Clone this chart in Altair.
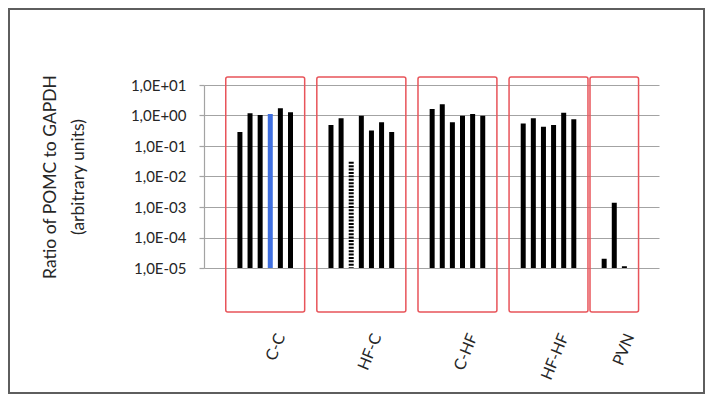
import altair as alt
import pandas as pd

# ---------------- data ----------------
groups = ["C-C", "HF-C", "C-HF", "HF-HF", "PVN"]
values_cc = [0.29, 1.18, 1.04, 1.12, 1.72, 1.27]
values_hfc = [0.49, 0.81, 0.0305, 0.98, 0.32, 0.60, 0.29]
values_chf = [1.63, 2.33, 0.60, 0.98, 1.12, 0.98]
values_hfhf = [0.55, 0.81, 0.43, 0.49, 1.24, 0.75]
values_pvn = [2.0e-5, 1.38e-3, 1.15e-5]
group_values = [values_cc, values_hfc, values_chf, values_hfhf, values_pvn]
# empty category cells between the groups in the original sheet
blank_slots_after = [3, 3, 3, 2, 0]

y_tick_values = [1e-5, 1e-4, 1e-3, 1e-2, 1e-1, 1e0, 1e1]
y_tick_labels = ["1,0E-05", "1,0E-04", "1,0E-03", "1,0E-02", "1,0E-01", "1,0E+00", "1,0E+01"]
y_title = ["Ratio of POMC to GAPDH", "(arbitrary units)"]

# ---------------- table ----------------
rows = []
slot = 0
for g, vals, blank in zip(groups, group_values, blank_slots_after):
    for i, v in enumerate(vals):
        rows.append({"group": g, "idx": i, "slot": slot, "value": v})
        slot += 1
    slot += blank
df = pd.DataFrame(rows)

W, H = 455, 183
PAD = {"left": 196, "top": 77, "right": 46, "bottom": 126}
FONT = "Lato"
TEXT = "#262626"
GRID = "#a3a3a3"

x_domain = [df["slot"].min() - 3.55, df["slot"].max() + 3.42]
x_scale = alt.Scale(domain=x_domain, nice=False, zero=False)
y_scale = alt.Scale(type="log", domain=[y_tick_values[0], y_tick_values[-1]], nice=False)

centers = df.groupby("group", sort=False)["slot"].mean()
label_pos = [round(float(centers[g]) + 1.5, 2) for g in groups]
x_label_expr = "[" + ",".join("'%s'" % g for g in groups) + "][indexof([" + \
    ",".join(str(p) for p in label_pos) + "], datum.value)]"
y_label_expr = "[" + ",".join("'%s'" % s for s in y_tick_labels) + \
    "][round(log(datum.value)/LN10) + 5]"

base = alt.Chart(df)

boxes = base.transform_aggregate(
    lo="min(slot)", hi="max(slot)", groupby=["group"]
).transform_calculate(
    x1="datum.lo - 1.4", x2="datum.hi + 1.4"
).mark_rect(
    fillOpacity=0, stroke="#e8545a", strokeWidth=1.5, cornerRadius=2
).encode(
    x=alt.X("x1:Q", scale=x_scale),
    x2="x2:Q",
    y=alt.value(-8),
    y2=alt.value(H + 44),
)

blue_test = "datum.group == 'C-C' && datum.idx == 3"
dot_test = "datum.group == 'HF-C' && datum.idx == 2"

bars = base.mark_rule(strokeWidth=5, strokeCap="butt").encode(
    x=alt.X(
        "slot:Q",
        scale=x_scale,
        axis=alt.Axis(
            values=label_pos, labelExpr=x_label_expr, title="",
            domain=False, ticks=False, tickSize=0, grid=False,
            labelAngle=-68, labelAlign="right", labelBaseline="middle",
            labelPadding=66, labelFont=FONT, labelFontSize=16,
            labelColor=TEXT, labelOverlap=False, labelFlush=False,
        ),
    ),
    y=alt.Y(
        "value:Q",
        scale=y_scale,
        axis=alt.Axis(
            values=y_tick_values, labelExpr=y_label_expr,
            title=y_title, titleFont=FONT, titleFontSize=17.5,
            titleFontWeight="normal", titleColor=TEXT, titlePadding=43,
            titleLineHeight=28,
            grid=True, gridColor=GRID, gridWidth=1.2,
            domainColor=GRID, domainWidth=1.2, tickColor=GRID, tickWidth=1.2,
            tickSize=5, labelFont=FONT, labelFontSize=15, labelColor=TEXT,
            labelPadding=13,
        ),
    ),
    y2=alt.datum(y_tick_values[0]),
    color=alt.condition(blue_test, alt.value("#3f6fe0"), alt.value("#000000")),
    strokeDash=alt.condition(dot_test, alt.value([2, 1.4]), alt.value([1, 0])),
)

frame = base.mark_rect(
    fillOpacity=0, stroke="#5e5e5e", strokeWidth=2
).encode(
    x=alt.value(-PAD["left"] + 1),
    x2=alt.value(W + PAD["right"] - 1),
    y=alt.value(-PAD["top"] + 1),
    y2=alt.value(H + PAD["bottom"] - 1),
).transform_filter("datum.slot == 0")

chart = alt.layer(boxes, bars, frame).properties(
    width=W, height=H,
    padding=PAD,
    autosize=alt.AutoSizeParams(type="none"),
    background="white",
).configure_view(strokeWidth=0)

chart.save("out.html", embed_options={"renderer": "svg", "actions": False})
